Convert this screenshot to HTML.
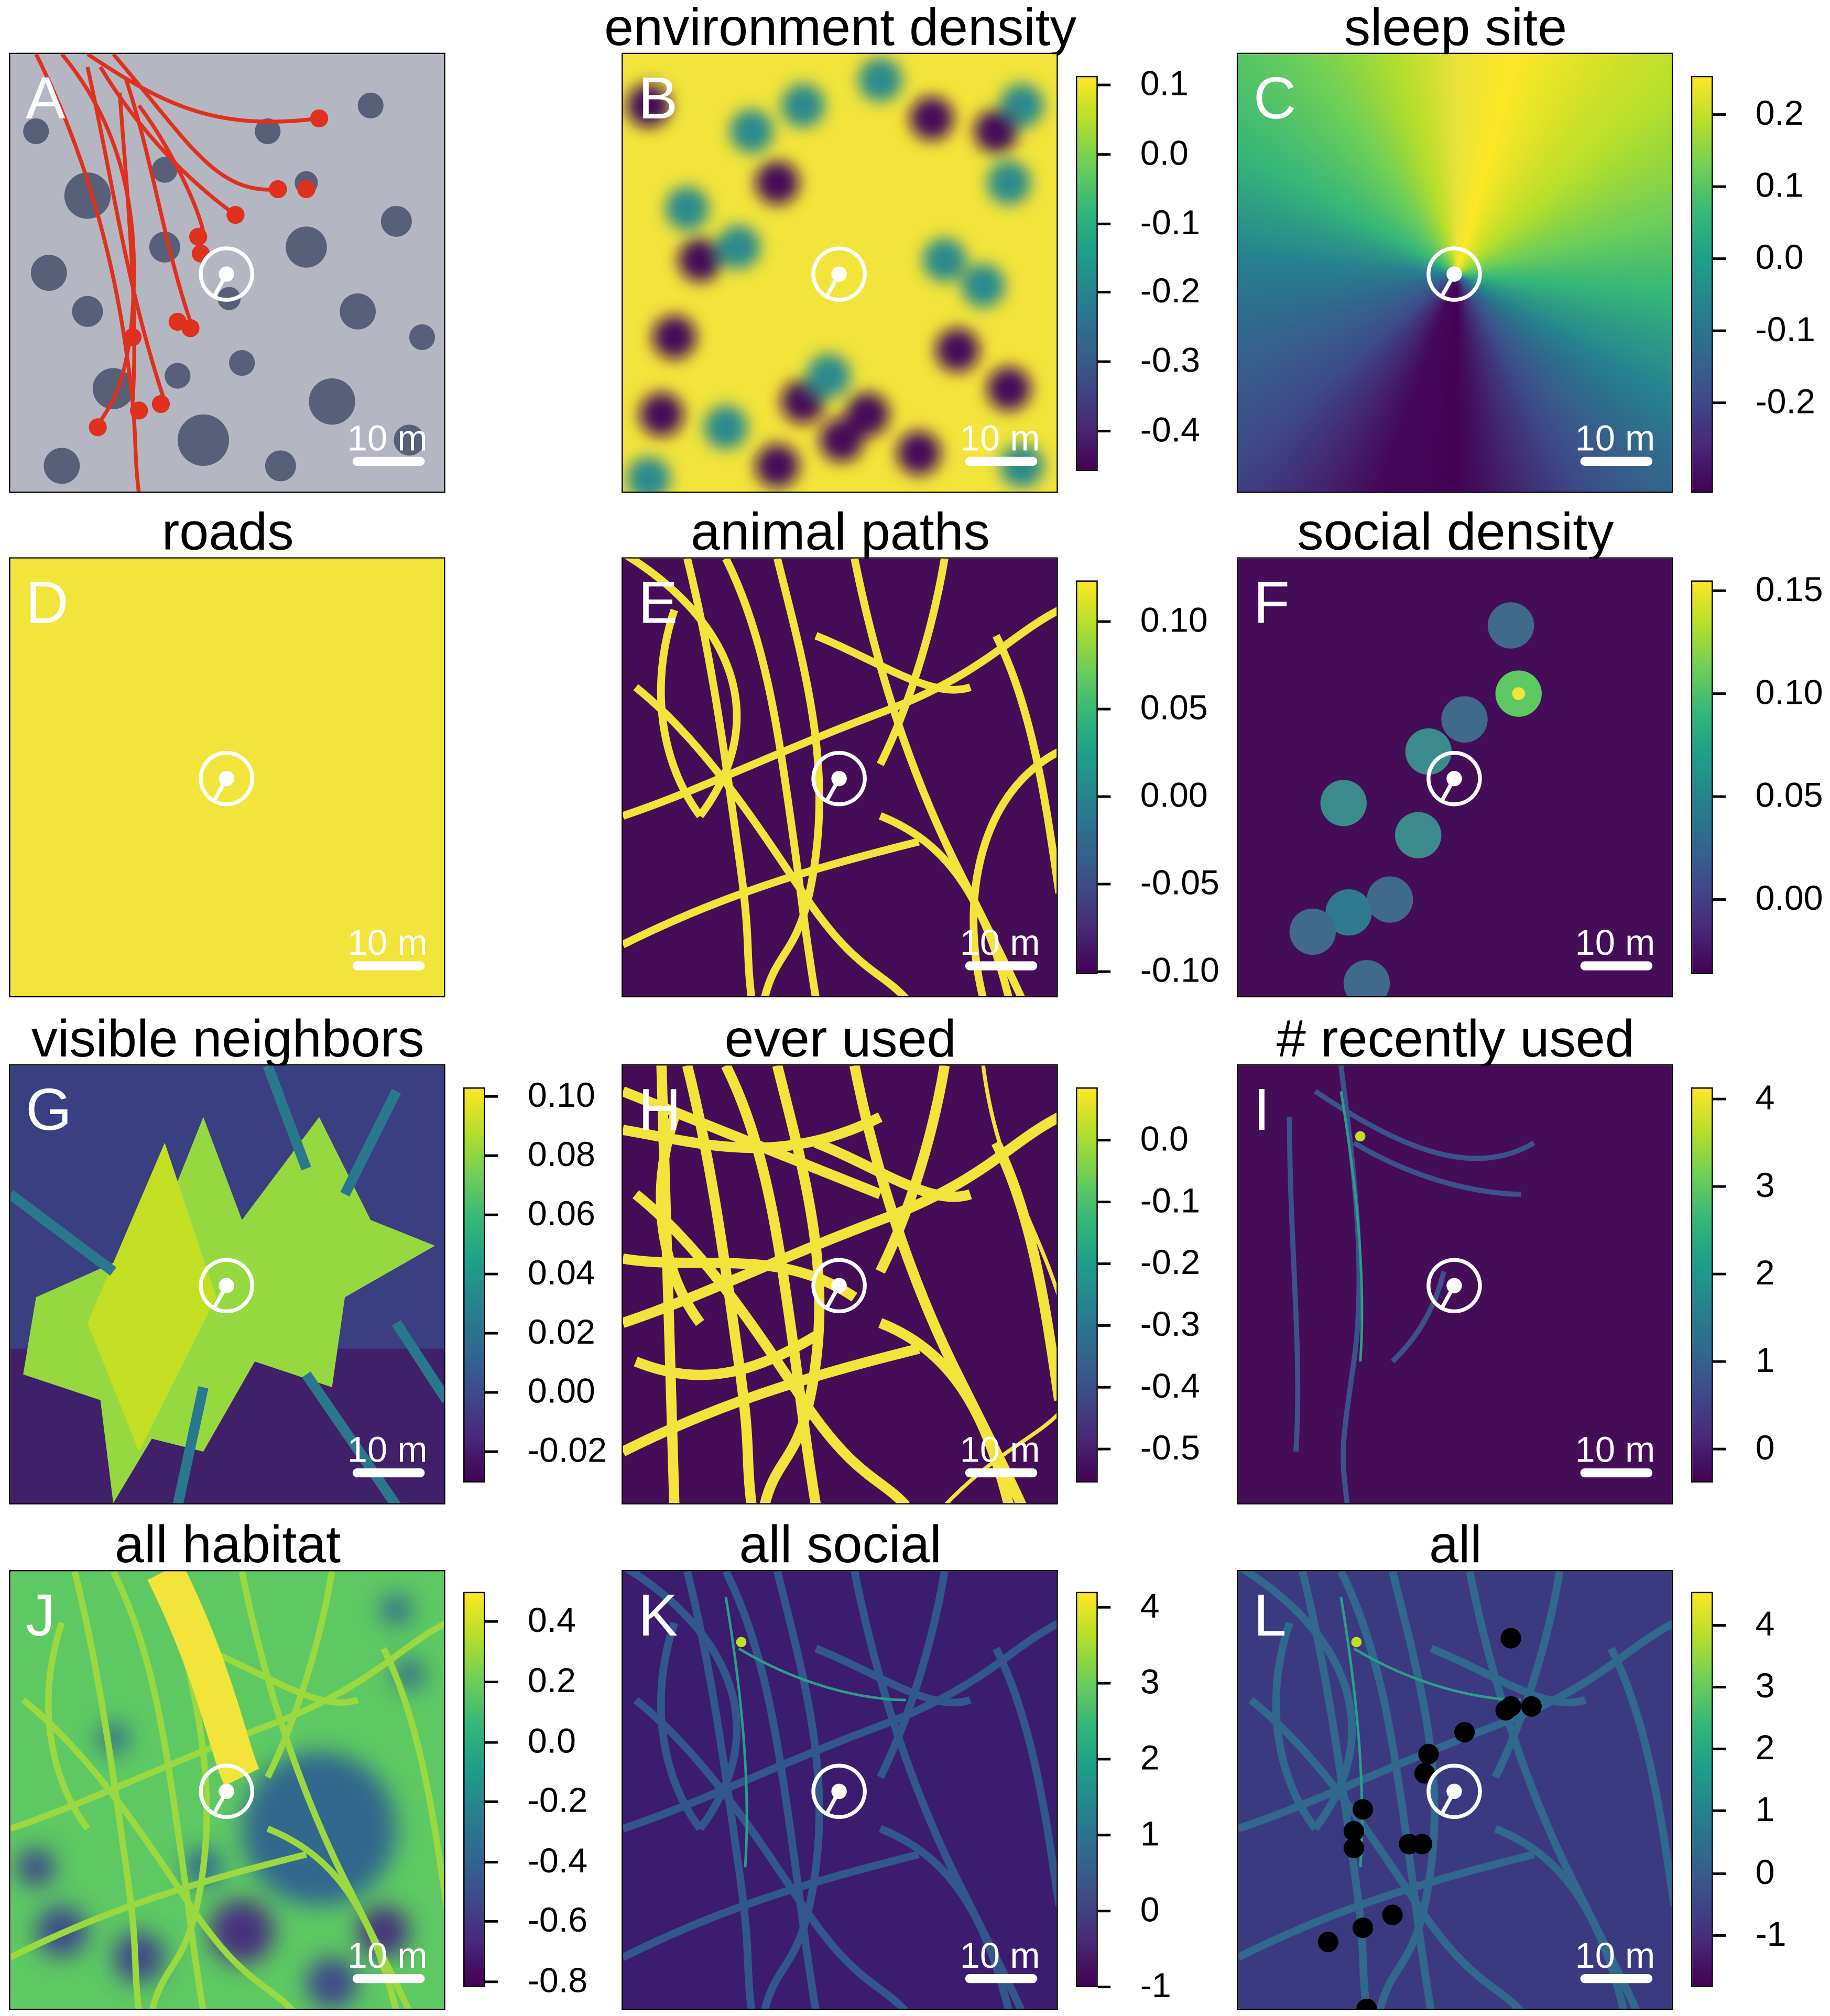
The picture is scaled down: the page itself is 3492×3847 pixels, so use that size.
<!DOCTYPE html>
<html><head><meta charset="utf-8"><style>
html,body{margin:0;padding:0;background:#fff;}
#root{position:absolute;left:0;top:0;width:1422px;height:1566px;transform:scale(2.4557);transform-origin:0 0;font-family:"Liberation Sans",sans-serif;}
.panel{position:absolute;width:339px;height:342px;border:1px solid #000;box-sizing:border-box;overflow:hidden;}
.panel svg{position:absolute;left:0;top:0;}
.title{position:absolute;width:500px;text-align:center;font-size:41px;line-height:41px;color:#000;}
.cbar{position:absolute;width:17px;border:1px solid #000;box-sizing:border-box;background:linear-gradient(to top,#440154,#482878,#3e4a89,#31688e,#26828e,#1f9e89,#35b779,#6ece58,#b5de2b,#fde725);}
.tick{position:absolute;height:2px;width:10px;background:#000;}
.tl{position:absolute;font-size:27px;line-height:27px;color:#000;}
</style></head><body>
<div id="root"></div>
<script>
// colorbar tick data
const ticksB=["0.1","0.0","-0.1","-0.2","-0.3","-0.4"]; const posB=[66,120,174,227,281,335];
const ticksC=["0.2","0.1","0.0","-0.1","-0.2"]; const posC=[89,145,201,257,313];
const ticksE=["0.10","0.05","0.00","-0.05","-0.10"]; const posE=[483,551,619,687,755];
const ticksF=["0.15","0.10","0.05","0.00"]; const posF=[459,539,619,699];
const ticksG=["0.10","0.08","0.06","0.04","0.02","0.00","-0.02"]; const posG=[852,898,944,990,1036,1082,1128];
const ticksH=["0.0","-0.1","-0.2","-0.3","-0.4","-0.5"]; const posH=[886,934,982,1030,1078,1126];
const ticksI=["4","3","2","1","0"]; const posI=[854,922,990,1058,1126];
const ticksJ=["0.4","0.2","0.0","-0.2","-0.4","-0.6","-0.8"]; const posJ=[1260,1307,1354,1400,1447,1493,1540];
const ticksK=["4","3","2","1","0","-1"]; const posK=[1249,1308,1367,1426,1485,1544];
const ticksL=["4","3","2","1","0","-1"]; const posL=[1263,1311,1359,1407,1456,1504];

const root=document.getElementById('root');
const colX=[7,483,961], rowY=[41,433,827,1220];
const Y='#f2e43a', P='#450c58', T='#2c8a8c', G='#3f6a8c';

function pathsSvg(col,w,list){return list.map(d=>`<path d="${d}" fill="none" stroke="${col}" stroke-width="${w}" stroke-linejoin="round"/>`).join('');}
const trails=["M50 0 C70 80 80 160 90 230 S95 300 100 342","M80 0 C110 60 120 130 130 200 S140 280 150 342","M120 0 C140 80 160 150 150 230 S120 300 110 342","M10 100 C60 140 100 200 140 260 S200 320 220 342","M0 200 C60 180 120 150 200 120 S300 60 339 40","M180 0 C200 100 230 180 260 240 S300 320 310 342","M250 0 C240 60 220 120 200 160","M0 300 C80 260 150 240 230 220","M290 60 C320 120 330 200 339 260","M40 40 C20 100 30 160 60 200","M200 200 C250 220 280 260 300 342","M150 60 C200 80 240 110 270 100"];
const ring="M-10 -10 C80 40 120 120 60 200";

const contents={
A:`<rect width="340" height="342" fill="#b4b6c2"/>`+
 [[60,110,18],[30,170,14],[120,150,12],[230,150,16],[270,200,14],[200,60,10],[300,130,12],[80,260,16],[150,300,20],[250,270,18],[310,300,12],[40,320,14],[180,240,10],[120,90,10],[280,40,10],[20,60,10],[210,320,12],[60,200,12],[170,190,9],[320,220,10],[230,100,9],[130,250,10]].map(c=>`<circle cx="${c[0]}" cy="${c[1]}" r="${c[2]}" fill="#46506c" opacity="0.85"/>`).join('')+
 pathsSvg('#e0301e',3,["M20 0 C60 80 80 160 90 230 S95 300 100 342","M40 0 C90 60 100 130 95 200 S70 280 68 290","M60 0 C120 40 160 60 240 50","M70 10 C100 60 140 100 175 125","M80 0 C140 70 160 110 210 105","M90 20 C110 80 120 150 140 208","M85 30 C90 100 100 200 95 270","M100 40 C130 80 150 130 150 140","M60 10 C80 100 90 180 120 270"])+
 [[100,277],[68,290],[117,272],[130,208],[140,213],[146,142],[148,155],[175,125],[208,105],[230,105],[240,50],[95,220]].map(p=>`<circle cx="${p[0]}" cy="${p[1]}" r="7" fill="#e0301e"/>`).join(''),
B:`<defs><filter id="bl"><feGaussianBlur stdDeviation="6"/></filter></defs><rect width="340" height="342" fill="${Y}"/><g filter="url(#bl)">`+
 [[20,40,P],[50,120,T],[60,160,P],[100,60,T],[120,100,P],[140,40,T],[240,50,P],[310,40,T],[200,20,T],[290,60,P],[90,150,T],[40,220,P],[30,280,P],[80,290,T],[140,270,P],[170,300,P],[160,250,T],[190,280,P],[260,230,P],[280,180,T],[300,260,P],[310,320,T],[230,310,P],[120,320,P],[20,330,T],[250,160,T],[300,100,T]].map(c=>`<circle cx="${c[0]}" cy="${c[1]}" r="17" fill="${c[2]}"/>`).join('')+`</g>`,
C:`<foreignObject width="340" height="342"><div xmlns="http://www.w3.org/1999/xhtml" style="width:340px;height:342px;background:conic-gradient(from 0deg at 50% 50%,#e8e33a 0deg,#fde725 15deg,#b5de2b 50deg,#6ece58 75deg,#35b779 95deg,#26828e 120deg,#3e4a89 150deg,#440154 180deg,#46085c 200deg,#3e4a89 230deg,#31688e 255deg,#26828e 275deg,#35b779 300deg,#6ece58 325deg,#b5de2b 345deg,#e8e33a 360deg)"></div></foreignObject>`,
D:`<rect width="340" height="342" fill="${Y}"/>`,
E:`<rect width="340" height="342" fill="${P}"/>`+pathsSvg(Y,6,trails.concat([ring,"M339 150 C280 180 260 260 280 342"])),
F:`<rect width="340" height="342" fill="${P}"/>`+
 [[212,52,G],[218,105,'#5ec962'],[176,125,G],[148,150,'#3b8a8c'],[82,190,'#3b8a8c'],[140,215,'#3b8a8c'],[118,265,G],[86,275,'#2f7a8c'],[58,290,G],[100,330,G]].map(c=>`<circle cx="${c[0]}" cy="${c[1]}" r="18" fill="${c[2]}"/>`).join('')+`<circle cx="218" cy="105" r="5" fill="${Y}"/>`,
G:`<rect width="340" height="342" fill="#3a3f82"/><rect y="220" width="340" height="122" fill="${P}" opacity="0.6"/><polygon points="20,180 110,140 150,40 180,120 240,40 280,120 330,140 260,180 250,250 190,230 150,300 110,290 80,340 70,260 10,240" fill="#95d840"/><polygon points="60,200 120,60 160,180 100,300" fill="#c2df23"/>`+pathsSvg('#2a788e',8,["M200 0 L230 80","M300 20 L260 100","M150 250 L130 342","M230 240 L300 342","M300 200 L339 260","M0 100 L80 160"]),
H:`<rect width="340" height="342" fill="${P}"/>`+pathsSvg(Y,8,trails.concat(["M0 50 C60 60 120 80 200 40","M0 150 C60 160 120 140 180 180","M10 230 C60 250 100 240 150 210","M0 20 L200 100","M30 0 L40 342"]))+pathsSvg(Y,3,["M280 0 C290 80 320 120 339 180","M250 342 C290 300 320 290 339 270"]),
I:`<rect width="340" height="342" fill="${P}"/>`+pathsSvg('#3b528b',4,["M80 0 C90 80 100 160 90 230 S80 300 85 342","M60 20 C120 60 180 90 230 60","M40 40 C40 140 50 220 45 300","M90 60 C140 90 190 100 220 100","M160 160 C150 200 130 220 120 230"])+pathsSvg('#2a9d8c',2,["M80 20 C90 80 100 160 95 230"])+`<circle cx="95" cy="55" r="4" fill="#c2df23"/>`,
J:`<rect width="340" height="342" fill="#5ec962"/><defs><filter id="bl2"><feGaussianBlur stdDeviation="9"/></filter></defs><g filter="url(#bl2)">`+
 [[240,200,'#31688e',60],[40,280,'#3e4a89',20],[100,300,'#3e4a89',20],[180,280,'#46327e',25],[290,280,'#46327e',20],[250,320,'#3e4a89',20],[20,230,'#3e4a89',15],[300,30,'#31688e',12],[310,80,'#31688e',12],[80,130,'#31688e',12],[150,230,'#31688e',15]].map(c=>`<circle cx="${c[0]}" cy="${c[1]}" r="${c[3]}" fill="${c[2]}"/>`).join('')+`</g>`+pathsSvg('#9ad93f',5,trails)+`<path d="M120 0 C160 80 170 140 180 160" stroke="${Y}" stroke-width="30" fill="none"/>`,
K:`<rect width="340" height="342" fill="#3b1c6e"/>`+pathsSvg('#31578c',6,trails.concat([ring]))+pathsSvg('#2a9d8c',2,["M80 20 C90 80 100 160 95 230","M90 60 C140 90 190 100 220 100"])+`<circle cx="92" cy="55" r="4" fill="#c2df23"/>`,
L:`<rect width="340" height="342" fill="#3b3a80"/>`+pathsSvg('#31688e',6,trails.concat([ring]))+pathsSvg('#2a9d8c',2,["M80 20 C90 80 100 160 95 230","M90 60 C140 90 190 100 220 100"])+`<circle cx="92" cy="55" r="4" fill="#c2df23"/>`+
 [[212,52],[208,108],[212,105],[228,105],[176,125],[148,142],[145,157],[97,185],[90,202],[90,215],[133,212],[143,212],[120,267],[70,288],[97,277],[100,340]].map(p=>`<circle cx="${p[0]}" cy="${p[1]}" r="8" fill="#000"/>`).join('')
};
const panels=[
 ['A','',0,0,null,null],['B','environment density',1,0,ticksB,posB],['C','sleep site',2,0,ticksC,posC],
 ['D','roads',0,1,null,null],['E','animal paths',1,1,ticksE,posE],['F','social density',2,1,ticksF,posF],
 ['G','visible neighbors',0,2,ticksG,posG],['H','ever used',1,2,ticksH,posH],['I','# recently used',2,2,ticksI,posI],
 ['J','all habitat',0,3,ticksJ,posJ],['K','all social',1,3,ticksK,posK],['L','all',2,3,ticksL,posL]];
panels.forEach(p=>{
 const [L,title,c,r,ticks,pos]=p; const x=colX[c], y=rowY[r];
 if(title){const t=document.createElement('div');t.className='title';
  
  
  t.style.left=(x+170-250)+'px';t.style.top=(y-40)+'px';t.textContent=title;root.appendChild(t);}
 const d=document.createElement('div');d.className='panel';
 
 
 d.style.left=x+'px';d.style.top=y+'px';
 d.innerHTML=`<svg width="340" height="342" viewBox="0 0 340 342">${contents[L]}
 <g fill="none" stroke="#fff" stroke-width="3"><circle cx="168" cy="171" r="20"/><line x1="168" y1="171" x2="158" y2="189"/></g><circle cx="168" cy="171" r="6" fill="#fff"/>
 <text x="12" y="50" font-size="46" fill="#fff" font-family="Liberation Sans,sans-serif">${L}</text>
 <text x="293" y="308" font-size="28" fill="#fff" text-anchor="middle" font-family="Liberation Sans,sans-serif">10 m</text>
 <rect x="266" y="313" width="56" height="7" rx="3.5" fill="#fff"/></svg>`;
 root.appendChild(d);
 if(ticks){
  const bx=x+353;
  const y0={B:59,C:59,E:451,F:451,G:845,H:845,I:845,J:1237,K:1237,L:1237}[L];
  const y1={B:366,C:383,E:757,F:757,G:1152,H:1152,I:1152,J:1544,K:1544,L:1544}[L];
  const cb=document.createElement('div');cb.className='cbar';
  
  
  cb.style.left=bx+'px';cb.style.top=y0+'px';cb.style.height=(y1-y0)+'px';root.appendChild(cb);
  ticks.forEach((lab,i)=>{
   const tk=document.createElement('div');tk.className='tick';
   
   
   tk.style.left=(bx+17)+'px';tk.style.top=(pos[i]-1)+'px';root.appendChild(tk);
   const tl=document.createElement('div');tl.className='tl';
   
   
   tl.style.left=(bx+50)+'px';tl.style.top=(pos[i]-14)+'px';tl.textContent=lab;root.appendChild(tl);
  });
 }
});
</script>
</body></html>
